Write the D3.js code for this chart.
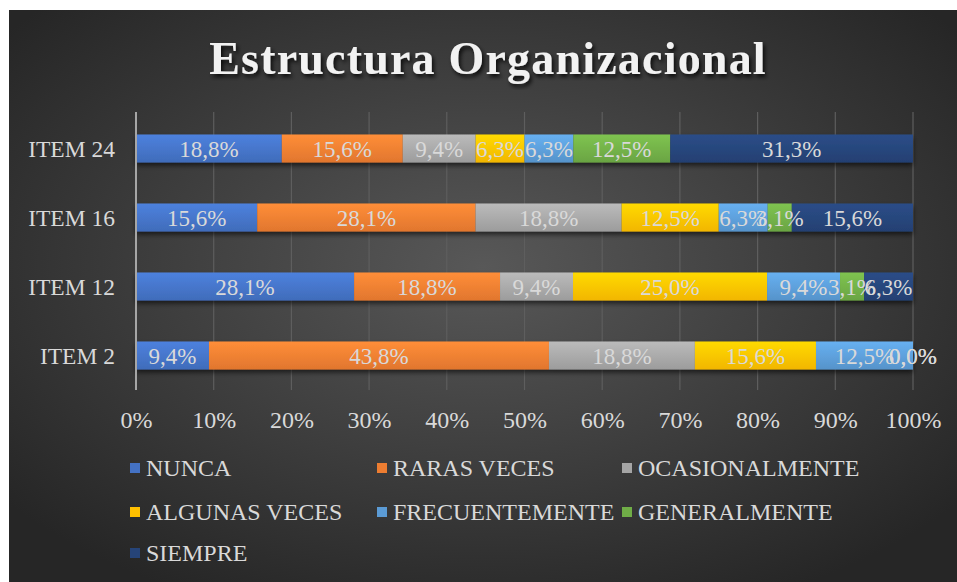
<!DOCTYPE html>
<html>
<head>
<meta charset="utf-8">
<script src="https://cdn.jsdelivr.net/npm/d3@7"></script>
<style>
  body { margin: 0; background: #fff; }
  svg text { font-family: "Liberation Serif", "Times New Roman", serif; }
</style>
</head>
<body>
<script>
// categories (top to bottom) and answer levels
var items = ["ITEM 24", "ITEM 16", "ITEM 12", "ITEM 2"];
var levels = ["NUNCA", "RARAS VECES", "OCASIONALMENTE", "ALGUNAS VECES", "FRECUENTEMENTE", "GENERALMENTE", "SIEMPRE"];
var levelColors = ["#4472C4", "#ED7D31", "#A5A5A5", "#FFC000", "#5B9BD5", "#70AD47", "#264478"];

// percentages per item, in level order
var item24 = [18.8, 15.6, 9.4, 6.3, 6.3, 12.5, 31.3];
var item16 = [15.6, 28.1, 18.8, 12.5, 6.3, 3.1, 15.6];
var item12 = [28.1, 18.8, 9.4, 25.0, 9.4, 3.1, 6.3];
var item2  = [9.4, 43.8, 18.8, 15.6, 12.5, 0.0, 0.0];
var tickValues = [0, 0.1, 0.2, 0.3, 0.4, 0.5, 0.6, 0.7, 0.8, 0.9, 1];

var values = [item24, item16, item12, item2];

var W = 957, H = 582;
var svg = d3.select("body").append("svg").attr("width", W).attr("height", H);
var defs = svg.append("defs");

// background
var bg = defs.append("radialGradient").attr("id", "bg")
  .attr("cx", "50%").attr("cy", "45%").attr("r", "65%");
bg.append("stop").attr("offset", "0%").attr("stop-color", "#585858");
bg.append("stop").attr("offset", "100%").attr("stop-color", "#262626");
svg.append("rect").attr("x", 9).attr("y", 10).attr("width", W - 9).attr("height", H - 10)
  .attr("fill", "url(#bg)");

// bar gradients (lighter on top)
levelColors.forEach(function(c, i) {
  var g = defs.append("linearGradient").attr("id", "g" + i)
    .attr("x1", 0).attr("y1", 0).attr("x2", 0).attr("y2", 1);
  g.append("stop").attr("offset", "0%").attr("stop-color", d3.color(c).brighter(0.35));
  g.append("stop").attr("offset", "100%").attr("stop-color", d3.color(c).darker(0.15));
});

var shadow = defs.append("filter").attr("id", "shadow")
  .attr("x", "-5%").attr("y", "-30%").attr("width", "110%").attr("height", "180%");
shadow.append("feDropShadow").attr("dx", 0).attr("dy", 3).attr("stdDeviation", 2.5)
  .attr("flood-color", "#000").attr("flood-opacity", 0.6);

var tshadow = defs.append("filter").attr("id", "tshadow");
tshadow.append("feDropShadow").attr("dx", 2).attr("dy", 3).attr("stdDeviation", 2)
  .attr("flood-color", "#000").attr("flood-opacity", 0.8);

// title
svg.append("text")
  .attr("x", 488).attr("y", 74)
  .attr("text-anchor", "middle")
  .attr("font-size", "46px").attr("font-weight", "bold")
  .attr("letter-spacing", "1.2px")
  .attr("fill", "#f2f2f2")
  .attr("filter", "url(#tshadow)")
  .text("Estructura Organizacional");

var x = d3.scaleLinear().domain([0, 1]).range([136, 913]);
var y = d3.scaleBand().domain(items).range([114, 390]).paddingInner(0.594).paddingOuter(0.297);

// gridlines
svg.append("g")
  .selectAll("line").data(tickValues.slice(1)).enter().append("line")
  .attr("x1", function(d) { return x(d); }).attr("x2", function(d) { return x(d); })
  .attr("y1", 112).attr("y2", 390)
  .attr("stroke", "#5e5e5e").attr("stroke-width", 1.2);

// x tick labels
var xAxis = d3.axisBottom(x).tickValues(tickValues).tickSize(0)
  .tickFormat(function(d) { return Math.round(d * 100) + "%"; });
var gx = svg.append("g").attr("transform", "translate(0,390)").call(xAxis);
gx.select(".domain").remove();
gx.selectAll("text").attr("dy", 0).attr("y", 38)
  .attr("font-size", "24px").attr("font-family", "Liberation Serif")
  .attr("fill", "#d9d9d9");

// stacked segments
var rows = [];
values.forEach(function(vals, r) {
  var total = d3.sum(vals), acc = 0;
  vals.forEach(function(v, i) {
    rows.push({ item: items[r], level: i, v: v, x0: acc / total, x1: (acc + v) / total });
    acc += v;
  });
});

var bars = svg.append("g").attr("filter", "url(#shadow)");
bars.selectAll("rect").data(rows).enter().append("rect")
  .attr("x", function(d) { return x(d.x0); })
  .attr("y", function(d) { return y(d.item); })
  .attr("width", function(d) { return x(d.x1) - x(d.x0); })
  .attr("height", y.bandwidth())
  .attr("fill", function(d) { return "url(#g" + d.level + ")"; });

// y axis line and labels
svg.append("line").attr("x1", 136).attr("x2", 136).attr("y1", 112).attr("y2", 390)
  .attr("stroke", "#a6a6a6").attr("stroke-width", 2);
svg.append("g").selectAll("text").data(items).enter().append("text")
  .attr("x", 115).attr("y", function(d) { return y(d) + y.bandwidth() / 2; })
  .attr("dy", "0.35em").attr("text-anchor", "end")
  .attr("font-size", "23.5px").attr("fill", "#d9d9d9")
  .text(function(d) { return d; });

// data labels
svg.append("g").selectAll("text").data(rows).enter().append("text")
  .attr("x", function(d) { return (x(d.x0) + x(d.x1)) / 2; })
  .attr("y", function(d) { return y(d.item) + y.bandwidth() / 2; })
  .attr("dy", "0.35em").attr("text-anchor", "middle")
  .attr("font-size", "23px").attr("fill", "#d9d9d9")
  .text(function(d) { return d.v.toFixed(1).replace(".", ",") + "%"; });

// legend
var legendCols = [130, 377, 622];
var legendRows = [468, 512, 553];
var legend = svg.append("g").selectAll("g").data(levels).enter().append("g")
  .attr("transform", function(d, i) {
    return "translate(" + legendCols[i % 3] + "," + legendRows[Math.floor(i / 3)] + ")";
  });
legend.append("rect").attr("x", 0).attr("y", -5).attr("width", 10).attr("height", 10)
  .attr("fill", function(d, i) { return levelColors[i]; });
legend.append("text").attr("x", 16).attr("dy", "0.35em")
  .attr("font-size", "24px").attr("fill", "#d9d9d9")
  .text(function(d) { return d; });
</script>
</body>
</html>
